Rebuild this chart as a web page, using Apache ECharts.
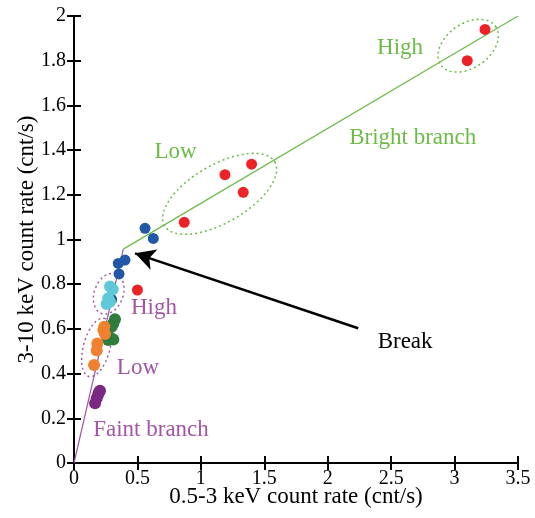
<!DOCTYPE html>
<html>
<head>
<meta charset="utf-8">
<script src="https://cdn.jsdelivr.net/npm/echarts@6/dist/echarts.min.js"></script>
<style>
  html, body { margin: 0; padding: 0; background: #fff; }
  #chart { width: 535px; height: 518px; }
</style>
</head>
<body>
<div id="chart"></div>
<script>
// count rates: [soft 0.5-3 keV, hard 3-10 keV]
var redPts = [[3.24, 1.94], [3.10, 1.80], [1.40, 1.337], [1.19, 1.29], [1.334, 1.211], [0.869, 1.077], [0.50, 0.774]];
var bluePts = [[0.56, 1.05], [0.625, 1.005], [0.349, 0.893], [0.402, 0.908], [0.355, 0.846], [0.297, 0.732]];
var cyanPts = [[0.284, 0.79], [0.305, 0.777], [0.27, 0.737], [0.257, 0.711], [0.284, 0.722]];
var greenPts = [[0.323, 0.643], [0.31, 0.625], [0.297, 0.61], [0.284, 0.562], [0.31, 0.553], [0.27, 0.55]];
var orangePts = [[0.239, 0.61], [0.231, 0.595], [0.244, 0.577], [0.184, 0.535], [0.179, 0.503], [0.158, 0.438]];
var purplePts = [[0.205, 0.323], [0.19, 0.306], [0.179, 0.29], [0.166, 0.267], [0.196, 0.315]];

// branch lines
var faintLine = [[0, 0], [0.389, 0.957]];
var brightLine = [[0.389, 0.957], [3.5, 2.0]];

// ellipses: major axis end points (data) + minor/major ratio
var greenEllipses = [[3.323, 1.953, 2.891, 1.781, 0.66], [1.583, 1.347, 0.713, 1.062, 0.454]];
var purpleEllipses = [[0.330, 0.846, 0.217, 0.669, 0.686], [0.240, 0.647, 0.117, 0.387, 0.443]];

// text annotations [x, y, text]
var greenLabels = [[2.57, 1.857, 'High'], [0.80, 1.39, 'Low'], [2.67, 1.454, 'Bright branch']];
var purpleLabels = [[0.63, 0.694, 'High'], [0.504, 0.425, 'Low'], [0.607, 0.148, 'Faint branch']];
var blackLabels = [[2.61, 0.541, 'Break']];
var breakArrow = [[2.24, 0.603], [0.481, 0.938]];

var xTicks = { min: 0, max: 3.5, interval: 0.5 };
var yTicks = { min: 0, max: 2, interval: 0.2 };

var serif = '"Liberation Serif", "Times New Roman", serif';
var lineGreen = '#6cbb47';
var lightPurple = '#a356a6';

var chart = echarts.init(document.getElementById('chart'));

function ellipseItem(params, api) {
  var p1 = api.coord([api.value(0), api.value(1)]);
  var p2 = api.coord([api.value(2), api.value(3)]);
  var dx = p2[0] - p1[0], dy = p2[1] - p1[1];
  var a = Math.sqrt(dx * dx + dy * dy) / 2;
  return {
    type: 'ellipse',
    x: (p1[0] + p2[0]) / 2,
    y: (p1[1] + p2[1]) / 2,
    rotation: Math.atan2(-dy, dx),
    shape: { cx: 0, cy: 0, rx: a, ry: a * api.value(4) },
    style: { fill: null, stroke: api.visual('color'), lineWidth: 1.5, lineDash: [2, 3] }
  };
}

function textSeries(list, color) {
  return {
    type: 'custom',
    silent: true,
    z: 5,
    data: list.map(function (d) { return [d[0], d[1]]; }),
    renderItem: function (params, api) {
      var p = api.coord([api.value(0), api.value(1)]);
      return {
        type: 'text',
        x: p[0],
        y: p[1],
        style: {
          text: list[params.dataIndex][2],
          fill: color,
          font: '23px ' + serif,
          align: 'center',
          verticalAlign: 'middle'
        }
      };
    }
  };
}

function dots(data, color, size) {
  return {
    type: 'scatter',
    data: data,
    symbolSize: size || 12,
    itemStyle: { color: color, opacity: 1 },
    z: 3
  };
}

var axisCommon = {
  axisLine: { lineStyle: { color: '#000', width: 2 } },
  axisTick: { inside: true, length: 7, lineStyle: { color: '#000', width: 2 } },
  splitLine: { show: false }
};

chart.setOption({
  animation: false,
  grid: { left: 74, right: 17, top: 16, bottom: 55 },
  xAxis: [
    Object.assign({
      type: 'value', position: 'bottom',
      min: xTicks.min, max: xTicks.max, interval: xTicks.interval,
      name: '0.5-3 keV count rate (cnt/s)',
      nameLocation: 'middle', nameGap: 22, nameMoveOverlap: false,
      nameTextStyle: { fontFamily: serif, fontSize: 23, color: '#000' },
      axisLabel: { fontFamily: serif, fontSize: 20, color: '#000', margin: 6 }
    }, axisCommon),
    Object.assign({
      type: 'value', position: 'top',
      min: xTicks.min, max: xTicks.max, interval: xTicks.interval,
      axisLabel: { show: false }
    }, axisCommon)
  ],
  yAxis: [
    Object.assign({
      type: 'value', position: 'left',
      min: yTicks.min, max: yTicks.max, interval: yTicks.interval,
      name: '3-10 keV count rate (cnt/s)',
      nameLocation: 'middle', nameGap: 36, nameMoveOverlap: false,
      nameTextStyle: { fontFamily: serif, fontSize: 23, color: '#000' },
      axisLabel: { fontFamily: serif, fontSize: 20, color: '#000', margin: 8 }
    }, axisCommon),
    Object.assign({
      type: 'value', position: 'right',
      min: yTicks.min, max: yTicks.max, interval: yTicks.interval,
      axisLabel: { show: false }
    }, axisCommon)
  ],
  series: [
    {
      type: 'line', data: faintLine, symbol: 'none', z: 1,
      lineStyle: { color: lightPurple, width: 1.2 }
    },
    {
      type: 'line', data: brightLine, symbol: 'none', z: 1,
      lineStyle: { color: lineGreen, width: 1.2 }
    },
    { type: 'custom', data: greenEllipses, renderItem: ellipseItem, itemStyle: { color: lineGreen }, z: 1, silent: true },
    { type: 'custom', data: purpleEllipses, renderItem: ellipseItem, itemStyle: { color: lightPurple }, z: 1, silent: true },
    dots(purplePts, '#7b2a84'),
    dots(greenPts, '#2f7d3c'),
    dots(orangePts, '#f0812e'),
    dots(bluePts, '#2257a8', 11),
    dots(cyanPts, '#5fc9d8'),
    dots(redPts, '#ec2227', 11),
    {
      type: 'line', data: [], symbol: 'none',
      markLine: {
        silent: true,
        symbol: ['none', 'arrow'],
        symbolSize: [16, 20],
        label: { show: false },
        lineStyle: { color: '#000', width: 2.5, type: 'solid' },
        data: [[{ coord: breakArrow[0] }, { coord: breakArrow[1] }]]
      }
    },
    textSeries(greenLabels, lineGreen),
    textSeries(purpleLabels, lightPurple),
    textSeries(blackLabels, '#000')
  ]
});
</script>
</body>
</html>
